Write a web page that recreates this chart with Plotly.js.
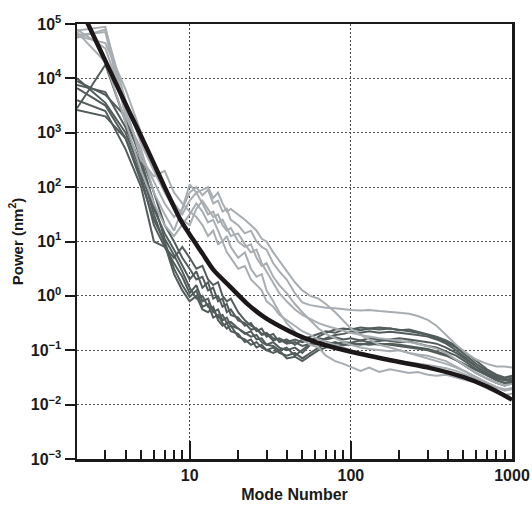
<!DOCTYPE html>
<html>
<head>
<meta charset="utf-8">
<script src="https://cdn.plot.ly/plotly-3.0.1.min.js"></script>
<style>html,body{margin:0;padding:0;background:#fff;}#chart{width:532px;height:507px;}</style>
</head>
<body>
<div id="chart"></div>
<script>
// Mode numbers sampled for the measured spectra
const modeNumber = [2,3,4,5,6,7,8,9,10,11,12,13,14,15,16,17,18,20,22,24,26,28,30,33,36,40,45,50,56,63,70,80,90,100,115,130,150,175,200,230,260,300,340,390,450,520,600,700,800,900,1000];

// Dark grey spectra
const dark1 = [7.6e3,5.6e3,1.26e3,251,39.8,14.1,7.08,3.55,2.0,2.82,1.41,1.78,0.89,1.0,0.63,0.71,0.447,0.398,0.282,0.316,0.224,0.251,0.178,0.2,0.141,0.158,0.126,0.158,0.178,0.2,0.224,0.209,0.24,0.251,0.234,0.251,0.24,0.251,0.24,0.224,0.209,0.191,0.166,0.141,0.112,0.0794,0.0562,0.0417,0.0339,0.0302,0.0331];
const dark2 = [6.6e3,3.16e3,794,158,20,7.94,3.98,2.24,1.12,1.58,0.794,0.891,0.501,0.562,0.355,0.398,0.282,0.251,0.2,0.224,0.158,0.166,0.126,0.141,0.112,0.1,0.112,0.0891,0.126,0.141,0.166,0.191,0.2,0.219,0.209,0.224,0.209,0.219,0.209,0.2,0.191,0.178,0.158,0.132,0.1,0.0708,0.0501,0.038,0.0316,0.0282,0.0302];
const dark3 = [2.82e3,1.78e4,1.58e3,398,79.4,20,10,5.01,3.16,2.0,2.24,1.26,1.41,0.794,0.891,0.501,0.562,0.355,0.316,0.24,0.251,0.191,0.2,0.151,0.166,0.141,0.158,0.141,0.158,0.166,0.158,0.174,0.158,0.166,0.151,0.166,0.158,0.151,0.141,0.145,0.132,0.12,0.112,0.0955,0.0794,0.0603,0.0447,0.0355,0.0282,0.0251,0.0263];
const dark4 = [2.63e3,2.0e3,794,126,25.1,10,3.16,1.58,0.955,1.26,0.631,0.708,0.398,0.447,0.316,0.251,0.282,0.178,0.158,0.126,0.141,0.112,0.1,0.112,0.0891,0.0794,0.0891,0.0708,0.0891,0.112,0.126,0.141,0.126,0.132,0.126,0.135,0.126,0.132,0.126,0.12,0.112,0.105,0.0955,0.0832,0.0661,0.0501,0.038,0.0302,0.0251,0.0224,0.0251];
const dark5 = [8.9e3,5.0e3,2.0e3,316,50.1,11.2,5.62,2.82,1.41,0.891,1.0,0.631,0.562,0.398,0.447,0.316,0.331,0.251,0.209,0.178,0.191,0.141,0.126,0.12,0.1,0.112,0.0794,0.1,0.132,0.178,0.209,0.24,0.251,0.24,0.263,0.251,0.263,0.251,0.234,0.24,0.219,0.2,0.178,0.151,0.12,0.0891,0.0631,0.0447,0.0355,0.0316,0.0339];
const dark6 = [3.98e3,2.51e3,501,100,10,7.94,5.01,7.94,5.01,3.16,3.55,2.0,1.58,1.78,1.0,0.794,0.891,0.501,0.355,0.282,0.251,0.2,0.209,0.166,0.158,0.132,0.141,0.12,0.132,0.126,0.141,0.132,0.141,0.138,0.151,0.141,0.148,0.158,0.166,0.158,0.151,0.141,0.132,0.112,0.0891,0.0661,0.0501,0.038,0.0302,0.0282,0.0282];
const dark7 = [1.0e4,3.55e3,1.0e3,200,31.6,8.91,2.51,1.26,0.794,1.0,0.562,0.501,0.631,0.355,0.282,0.316,0.224,0.2,0.141,0.158,0.112,0.126,0.1,0.0891,0.1,0.0708,0.0759,0.0631,0.0794,0.1,0.112,0.12,0.126,0.126,0.132,0.126,0.132,0.126,0.12,0.112,0.107,0.1,0.0891,0.0794,0.0661,0.0537,0.0427,0.0339,0.0282,0.0251,0.0263];

// Light grey spectra
const light1 = [7.6e4,8.9e4,2.51e3,398,126,50.1,28.2,39.8,79.4,100,70.8,89.1,50.1,56.2,35.5,39.8,25.1,20,14.1,15.8,10,7.94,7.08,3.98,2.82,2.0,1.12,0.759,0.676,0.631,0.603,0.589,0.562,0.55,0.537,0.55,0.525,0.513,0.49,0.468,0.427,0.363,0.282,0.191,0.126,0.0891,0.0676,0.0562,0.0501,0.0501,0.0479];
const light2 = [6.3e4,7.1e4,2.0e3,501,79.4,31.6,15.8,39.8,112,79.4,89.1,100,63.1,79.4,50.1,35.5,39.8,31.6,25.1,20,15.8,11.2,10,6.31,4.47,2.82,1.78,1.26,1.0,0.891,0.708,0.501,0.355,0.251,0.191,0.158,0.126,0.112,0.1,0.0891,0.0794,0.0708,0.0631,0.0562,0.0479,0.0398,0.0316,0.0251,0.0209,0.0182,0.0191];
const light3 = [7.1e4,2.0e4,1.58e3,200,50.1,20,12.6,20,31.6,50.1,35.5,22.4,25.1,15.8,10,12.6,7.94,5.01,6.31,3.16,2.24,2.51,1.26,0.794,0.501,0.316,0.224,0.158,0.126,0.112,0.0794,0.0631,0.0562,0.0501,0.0417,0.0479,0.0398,0.0447,0.0417,0.038,0.0398,0.0355,0.0339,0.0355,0.0316,0.0282,0.0251,0.02,0.0166,0.0151,0.0158];
const light4 = [5.6e4,7.9e4,3.98e3,631,200,79.4,39.8,25.1,20,39.8,56.2,39.8,28.2,31.6,20,15.8,17.8,10,7.94,8.91,5.01,3.55,3.98,2.24,1.58,1.12,0.708,0.501,0.355,0.251,0.2,0.166,0.141,0.126,0.112,0.105,0.1,0.0955,0.1,0.0891,0.0832,0.0794,0.0708,0.0631,0.0501,0.0398,0.0316,0.0251,0.0209,0.0191,0.02];
const light5 = [7.9e4,3.55e4,3.16e3,316,158,200,79.4,50.1,35.5,28.2,20,12.6,15.8,8.91,10,6.31,5.01,3.16,3.55,2.0,1.58,1.26,0.794,0.631,0.447,0.355,0.282,0.224,0.191,0.158,0.141,0.126,0.112,0.1,0.0832,0.0794,0.0708,0.0661,0.0631,0.0603,0.0562,0.0537,0.0501,0.0468,0.0417,0.0355,0.0302,0.0251,0.0209,0.0182,0.02];
const light6 = [6.0e4,4.47e4,6.31e3,1.0e3,251,100,50.1,31.6,56.2,79.4,50.1,31.6,35.5,22.4,25.1,17.8,12.6,14.1,8.91,6.31,7.08,3.98,2.82,1.78,1.12,0.794,0.562,0.447,0.38,0.316,0.282,0.251,0.229,0.209,0.191,0.178,0.166,0.158,0.151,0.141,0.132,0.12,0.107,0.0891,0.0676,0.0501,0.038,0.0302,0.0251,0.0224,0.024];

// Model curve (thick black)
const modelX = [2,2.34,3,4,4.88,6,7,8.77,10,10.7,12,14.05,17.8,22.6,28.7,36.5,46.3,58.8,74.5,100,194,312,502,701,1000];
const modelY = [2.7e5,1.0e5,2.1e4,3.4e3,1.0e3,270,100,25,13.5,10,6.0,3.0,1.48,0.73,0.416,0.273,0.192,0.145,0.117,0.094,0.062,0.047,0.032,0.0215,0.0123];

// Tick labels
const yTickVals = [1e-3,1e-2,1e-1,1e0,1e1,1e2,1e3,1e4,1e5];
const yTickText = ['10<sup>−3</sup>','10<sup>−2</sup>','10<sup>−1</sup>','10<sup>0</sup>','10<sup>1</sup>','10<sup>2</sup>','10<sup>3</sup>','10<sup>4</sup>','10<sup>5</sup>'];
const xTickVals = [10,100,1000];
const xTickText = ['10','100','1000'];
const xMinorVals = [3,4,5,6,7,8,9,20,30,40,50,60,70,80,90,200,300,400,500,600,700,800,900];

const DARK = '#525c5b';
const LIGHT = '#a8adb1';
const BLACK = '#1c1718';

const darkSeries = [dark1,dark2,dark3,dark4,dark5,dark6,dark7];
const lightSeries = [light1,light2,light3,light4,light5,light6];

const traces = [];
darkSeries.forEach(function(s){
  traces.push({x: modeNumber, y: s, type: 'scatter', mode: 'lines', line: {color: DARK, width: 2}, hoverinfo: 'skip'});
});
lightSeries.forEach(function(s){
  traces.push({x: modeNumber, y: s, type: 'scatter', mode: 'lines', line: {color: LIGHT, width: 2}, hoverinfo: 'skip'});
});
traces.push({x: modelX, y: modelY, type: 'scatter', mode: 'lines', line: {color: BLACK, width: 4.5, shape: 'spline', smoothing: 0.8}, hoverinfo: 'skip'});

const font = {family: 'Liberation Sans, Arial, sans-serif', size: 16, color: '#1a1a1a', weight: 700};

const layout = {
  width: 532, height: 507,
  margin: {l: 77, r: 20, t: 24, b: 48, pad: 0},
  paper_bgcolor: '#ffffff', plot_bgcolor: '#ffffff',
  showlegend: false,
  font: font,
  xaxis: {
    type: 'log',
    range: [Math.log10(2), 3],
    tickmode: 'array', tickvals: xTickVals, ticktext: xTickText,
    ticks: 'inside', ticklen: 18, tickwidth: 2, tickcolor: '#1a1a1a',
    minor: {tickmode: 'array', tickvals: xMinorVals, ticks: 'inside', ticklen: 9, tickwidth: 2, tickcolor: '#1a1a1a', showgrid: false},
    showline: true, linewidth: 2.5, linecolor: '#1a1a1a', mirror: true,
    showgrid: true, gridcolor: '#444', gridwidth: 1, griddash: '2px,2px',
    zeroline: false,
    tickfont: {family: font.family, size: 16, color: '#1a1a1a', weight: 700},
    title: {text: 'Mode Number', font: {family: font.family, size: 16, color: '#1a1a1a', weight: 700}, standoff: 6}
  },
  yaxis: {
    type: 'log',
    range: [-3, 5],
    tickmode: 'array', tickvals: yTickVals, ticktext: yTickText,
    ticks: 'outside', ticklen: 10, tickwidth: 2, tickcolor: '#1a1a1a',
    showline: true, linewidth: 2.5, linecolor: '#1a1a1a', mirror: true,
    showgrid: true, gridcolor: '#555', gridwidth: 1, griddash: '2px,2px',
    zeroline: false,
    tickfont: {family: font.family, size: 16, color: '#1a1a1a', weight: 700},
    title: {text: 'Power (nm<sup>2</sup>)', font: {family: font.family, size: 15, color: '#1a1a1a', weight: 700}, standoff: 4}
  }
};

Plotly.newPlot('chart', traces, layout, {displayModeBar: false, staticPlot: true});
</script>
</body>
</html>
